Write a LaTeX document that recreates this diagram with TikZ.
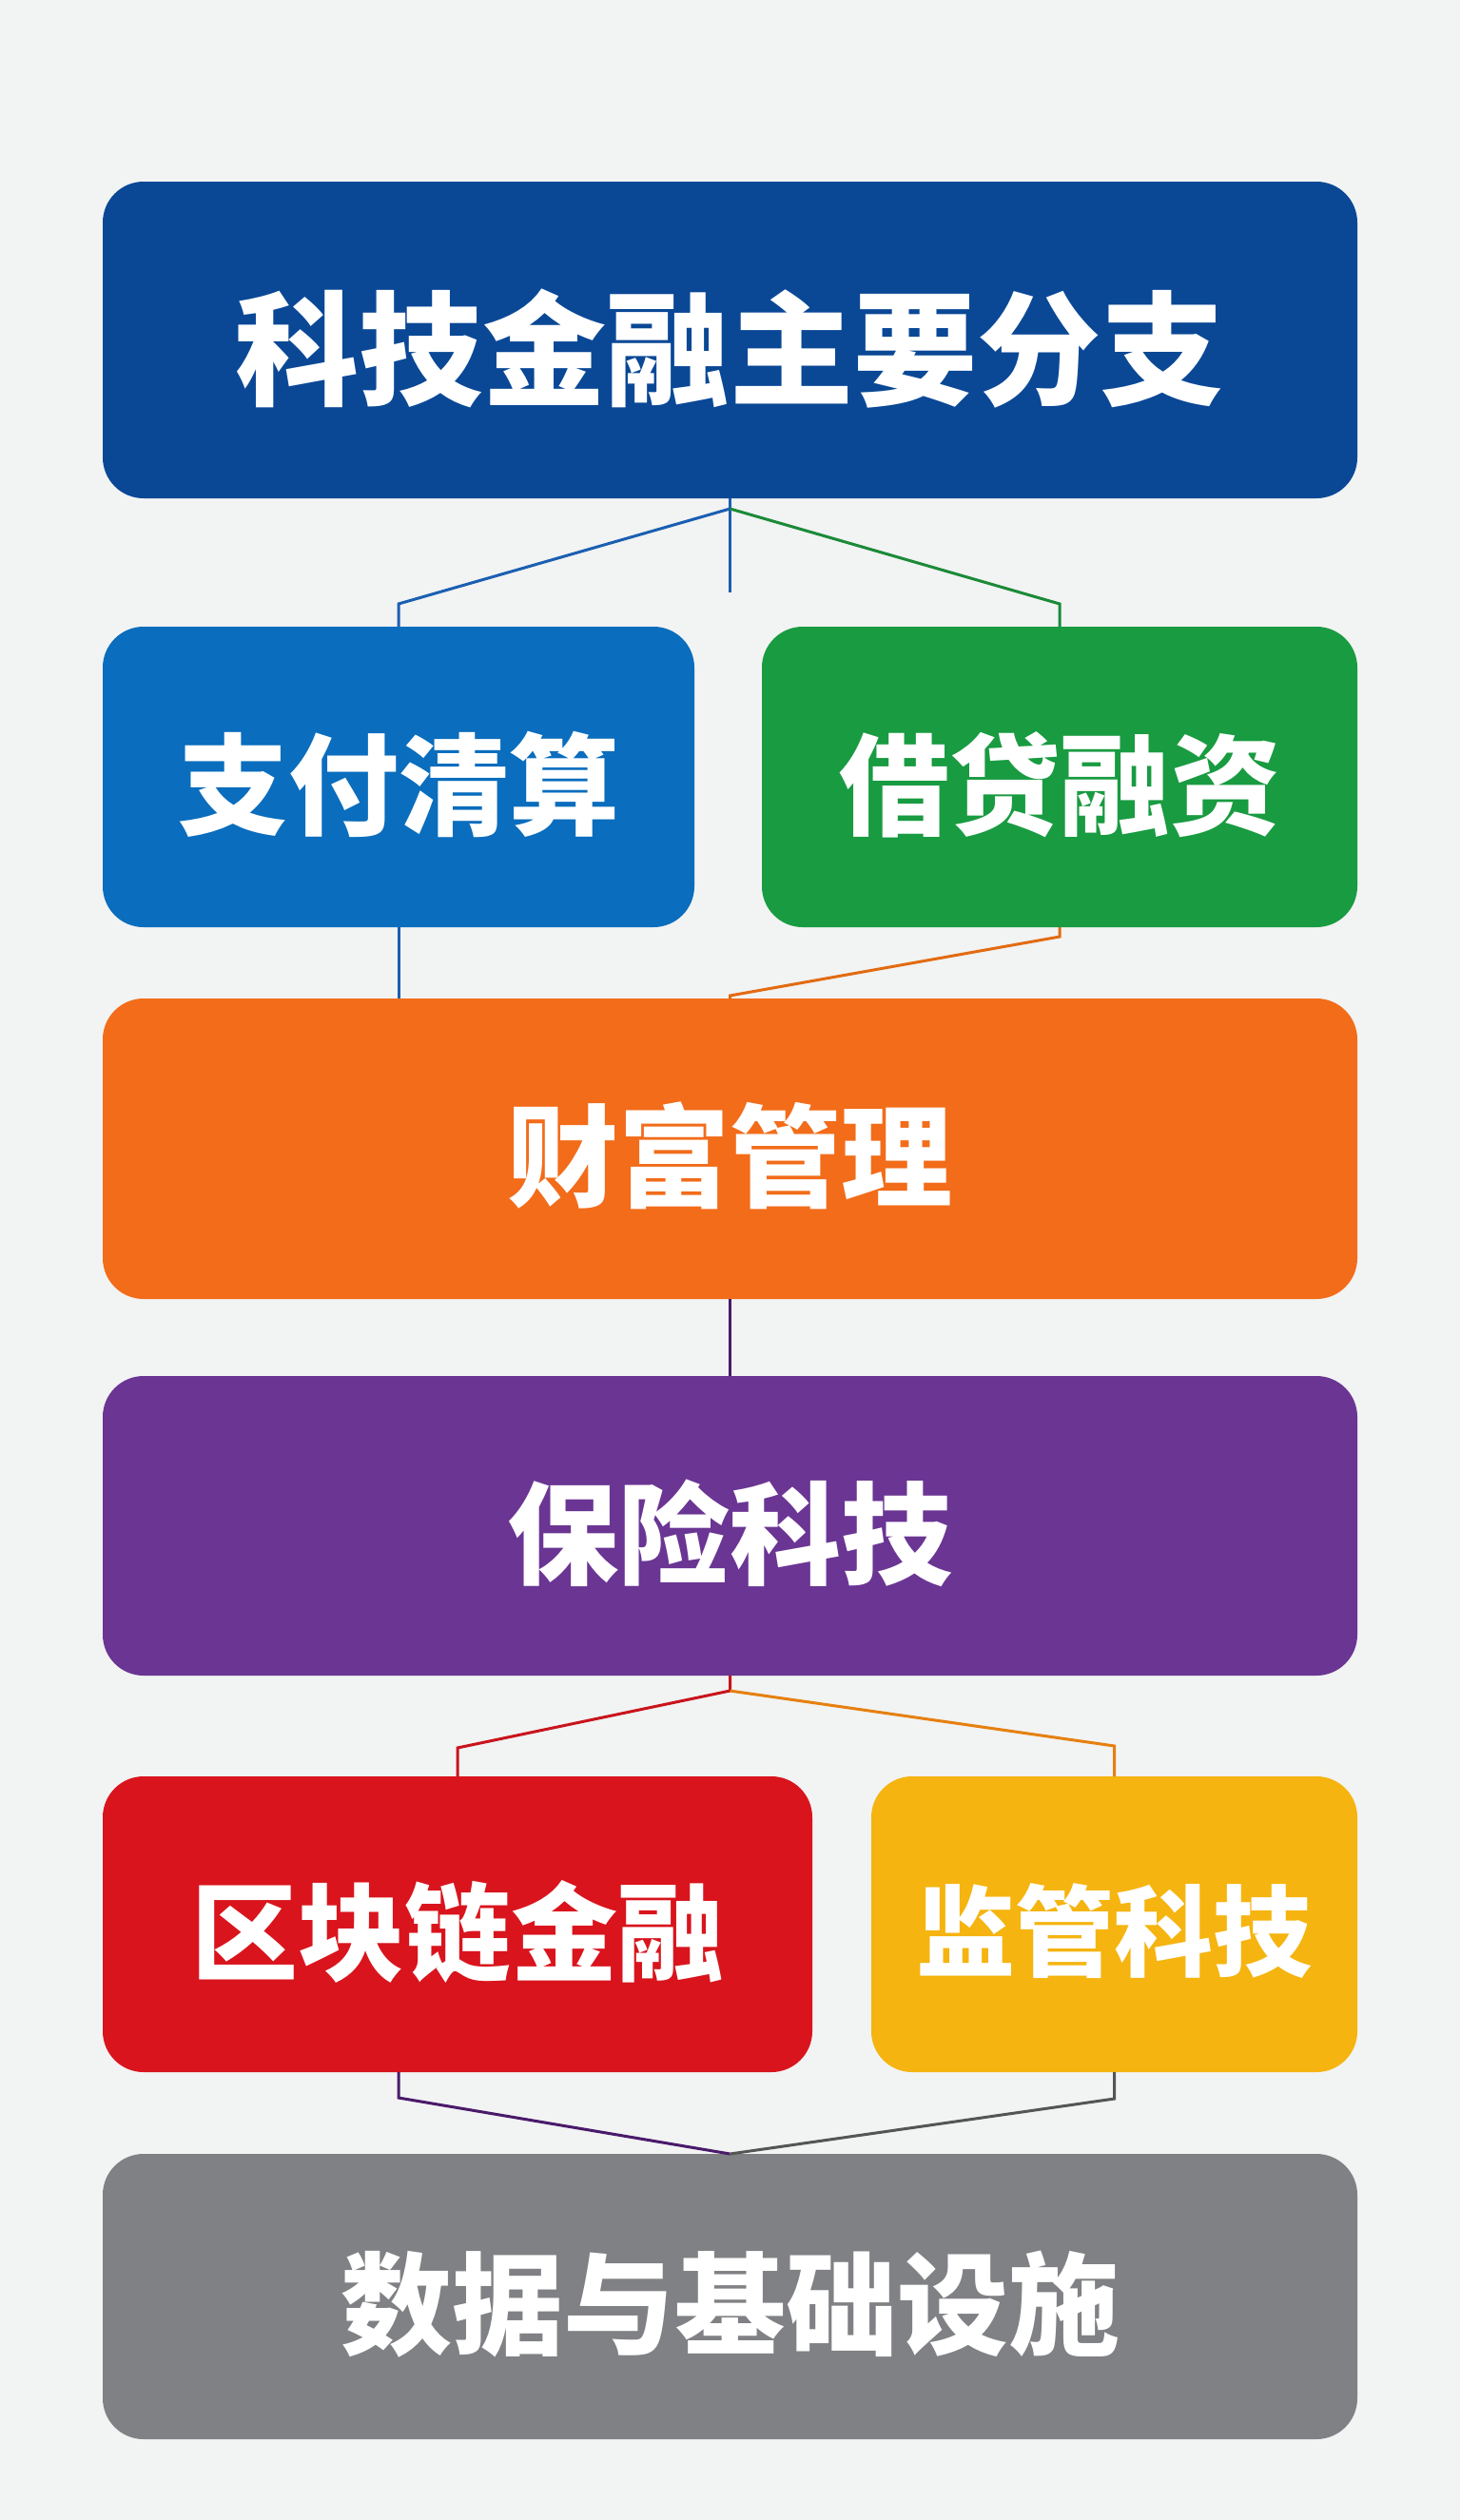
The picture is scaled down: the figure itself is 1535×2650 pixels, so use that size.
\documentclass[tikz,border=0pt]{standalone}
\usepackage{fontspec}
\newfontfamily\cjk{Noto Sans CJK SC}
\definecolor{bgc}{HTML}{F2F3F3}
\definecolor{cTitle}{HTML}{0A4896}
\definecolor{cPay}{HTML}{0A6DBD}
\definecolor{cLoan}{HTML}{199B41}
\definecolor{cWealth}{HTML}{F26C1A}
\definecolor{cIns}{HTML}{6A3593}
\definecolor{cChain}{HTML}{D9141D}
\definecolor{cReg}{HTML}{F5B40F}
\definecolor{cData}{HTML}{808184}
\definecolor{lBlue}{HTML}{1A5FB2}
\definecolor{lGreen}{HTML}{1B8A38}
\definecolor{lOrange}{HTML}{E26B12}
\definecolor{lRed}{HTML}{C9141C}
\definecolor{lOrange2}{HTML}{E6800F}
\definecolor{lPurple}{HTML}{4A1A6A}
\definecolor{lGray}{HTML}{555555}
\begin{document}
\begin{tikzpicture}[x=1pt,y=-1pt,
  box/.style={rectangle,rounded corners=43pt,inner sep=0pt,outer sep=0pt,text=white,font=\cjk\bfseries,text depth=0pt},
  conn/.style={line width=3pt,line join=miter}]
\fill[bgc] (0,0) rectangle (1535,2650);
\useasboundingbox (0,0) rectangle (1535,2650);
\node[box,fill=cTitle,minimum width=1319pt,minimum height=333pt,font=\cjk\bfseries\fontsize{130}{132}\selectfont] (title) at (767.5,357.5) {\raisebox{-5pt}{科技金融主要分支}};
\node[box,fill=cPay,minimum width=622pt,minimum height=316pt,font=\cjk\bfseries\fontsize{116}{118}\selectfont] (pay) at (419,817) {\raisebox{-5pt}{支付清算}};
\node[box,fill=cLoan,minimum width=626pt,minimum height=316pt,font=\cjk\bfseries\fontsize{116}{118}\selectfont] (loan) at (1114,817) {\raisebox{-5pt}{借贷融资}};
\node[box,fill=cWealth,minimum width=1319pt,minimum height=316pt,font=\cjk\bfseries\fontsize{117}{119}\selectfont] (wealth) at (767.5,1208) {\raisebox{-4pt}{财富管理}};
\node[box,fill=cIns,minimum width=1319pt,minimum height=315pt,font=\cjk\bfseries\fontsize{117}{119}\selectfont] (ins) at (767.5,1604.5) {\raisebox{-4pt}{保险科技}};
\node[box,fill=cChain,minimum width=746pt,minimum height=311pt,font=\cjk\bfseries\fontsize{112}{114}\selectfont] (chain) at (481,2023.5) {\raisebox{-4pt}{区块链金融}};
\node[box,fill=cReg,minimum width=511pt,minimum height=311pt,font=\cjk\bfseries\fontsize{104}{106}\selectfont] (reg) at (1171.5,2023.5) {\raisebox{-4pt}{监管科技}};
\node[box,fill=cData,minimum width=1319pt,minimum height=300pt,font=\cjk\bfseries\fontsize{117}{119}\selectfont] (data) at (767.5,2415) {\raisebox{-4pt}{数据与基础设施}};
% junctions
\coordinate (j1) at (767.5,535);
\coordinate (stub) at (767.5,623);
\coordinate (j2) at (767.5,1778);
% top branch
\draw[conn,lBlue] (title.south) -- (j1) -- (stub);
\draw[conn,lBlue] (j1) -- (419,635) -- (pay.north);
\draw[conn,lGreen] (j1) -- (1114,635) -- (loan.north);
% to wealth
\draw[conn,lBlue] (pay.south) -- (pay.south |- wealth.north);
\draw[conn,lOrange] (loan.south) -- (1114,985) -- (767.5,1047) -- (wealth.north);
% wealth to insurance
\draw[conn,lPurple] (wealth.south) -- (ins.north);
% insurance branch
\draw[conn,lRed] (ins.south) -- (j2) -- (481,1838) -- (chain.north);
\draw[conn,lOrange2] (j2) -- (1171.5,1836) -- (reg.north);
% to data
\draw[conn,lPurple] (419,2179) -- (419,2206) -- (data.north);
\draw[conn,lGray] (reg.south) -- (1171.5,2207) -- (data.north);
\end{tikzpicture}
\end{document}
